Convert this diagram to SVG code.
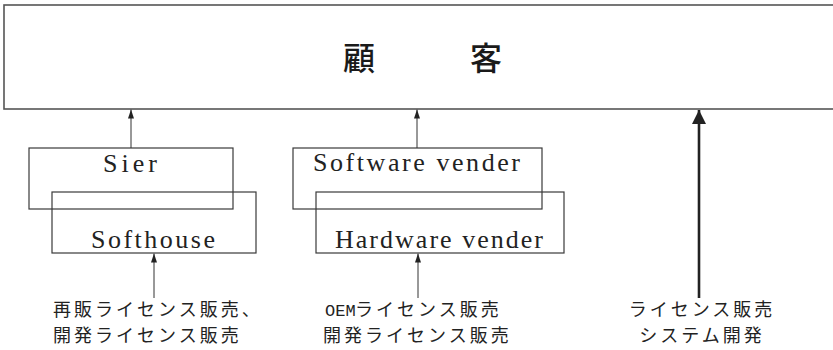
<svg xmlns="http://www.w3.org/2000/svg" width="833" height="350" viewBox="0 0 833 350">
<style>
.box{fill:none;stroke:#3a3a3a;stroke-width:1.2}
.top{fill:none;stroke:#555;stroke-width:1.6}
.en{font-family:"Liberation Serif",serif;font-size:26px;fill:#222}
.jp{font-family:"Noto Sans CJK JP",sans-serif;font-size:18px;letter-spacing:3px;fill:#222}
.mono{font-family:"Liberation Mono",monospace;font-size:17px;letter-spacing:0}
.title{font-family:"Noto Sans CJK JP",sans-serif;font-size:32px;font-weight:500;fill:#1a1a1a}
.thin{stroke:#333;stroke-width:1;fill:none}
.thick{stroke:#222;stroke-width:2.6;fill:none}
</style>
<defs>
<marker id="ah" viewBox="0 0 9 6" refX="9" refY="3" markerWidth="9" markerHeight="6" markerUnits="userSpaceOnUse" orient="auto"><path d="M0,0 L9,3 L0,6 z" fill="#222"/></marker>
<marker id="ahb" viewBox="0 0 14 14" refX="14" refY="7" markerWidth="14" markerHeight="14" markerUnits="userSpaceOnUse" orient="auto"><path d="M0,0 L14,7 L0,14 z" fill="#222"/></marker>
</defs>
<rect width="833" height="350" fill="#fff"/>
<g id="customer">
<rect class="top" x="4" y="5" width="840" height="104"/>
<text class="title" x="343" y="70" letter-spacing="95">顧客</text>
</g>
<g id="sier">
<rect class="box" x="29" y="148" width="204" height="61"/>
<text class="en" x="103" y="172" textLength="54" lengthAdjust="spacing">Sier</text>
</g>
<g id="softhouse">
<rect class="box" x="52" y="192" width="204" height="61"/>
<text class="en" x="91" y="248" textLength="124" lengthAdjust="spacing">Softhouse</text>
</g>
<g id="software-vender">
<rect class="box" x="293" y="148" width="249" height="61"/>
<text class="en" x="313" y="171" textLength="207" lengthAdjust="spacing">Software vender</text>
</g>
<g id="hardware-vender">
<rect class="box" x="316" y="192" width="248" height="61"/>
<text class="en" x="335" y="248" textLength="208" lengthAdjust="spacing">Hardware vender</text>
</g>
<g id="label1">
<text class="jp"><tspan x="53" y="316">再販ライセンス販売、</tspan><tspan x="53" y="342">開発ライセンス販売</tspan></text>
</g>
<g id="label2">
<text class="jp"><tspan x="325" y="316" class="mono">OEM</tspan><tspan x="355" y="316">ライセンス販売</tspan><tspan x="323" y="342">開発ライセンス販売</tspan></text>
</g>
<g id="label3">
<text class="jp" text-anchor="middle"><tspan x="702" y="316">ライセンス販売</tspan><tspan x="702" y="342">システム開発</tspan></text>
</g>
<g id="connectors">
<line class="thin" x1="131" y1="148" x2="131" y2="109.5" marker-end="url(#ah)"/>
<line class="thin" x1="417" y1="148" x2="417" y2="109.5" marker-end="url(#ah)"/>
<line class="thin" x1="154" y1="298" x2="154" y2="253.5" marker-end="url(#ah)"/>
<line class="thin" x1="418" y1="298" x2="418" y2="253.5" marker-end="url(#ah)"/>
<line class="thick" x1="699" y1="298" x2="699" y2="110" marker-end="url(#ahb)"/>
</g>
</svg>
